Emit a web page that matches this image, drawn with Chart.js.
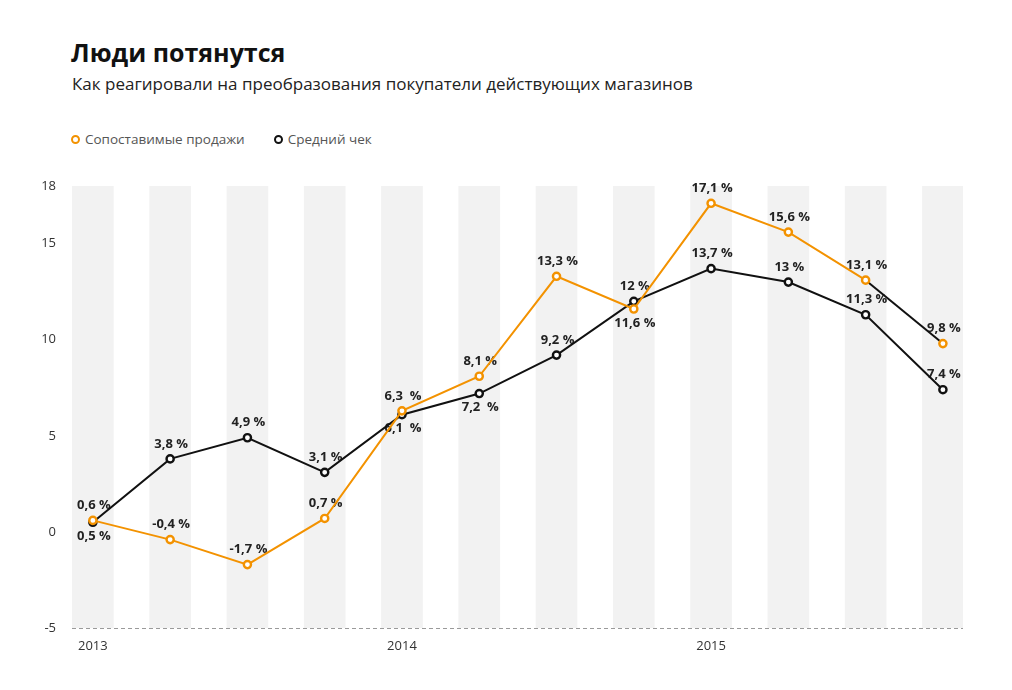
<!DOCTYPE html>
<html lang="ru">
<head>
<meta charset="utf-8">
<title>Люди потянутся</title>
<script src="https://cdn.jsdelivr.net/npm/chart.js@4.4.1/dist/chart.umd.min.js"></script>
<style>
	html, body { margin: 0; padding: 0; background: #fff; }
	body {
		width: 1012px; height: 690px; position: relative; overflow: hidden;
		font-family: 'Open Sans', sans-serif;
	}
	#chart { position: absolute; left: 0; top: 0; }
	.title {
		position: absolute; left: 71px; top: 35px; white-space: nowrap;
		font-size: 25px; font-weight: 700; color: #111; line-height: normal;
	}
	.subtitle {
		position: absolute; left: 72px; top: 72px; white-space: nowrap;
		font-size: 17px; color: #222; line-height: normal;
	}
	.legend {
		position: absolute; left: 71px; top: 130px; white-space: nowrap;
		font-size: 13.5px; color: #555; line-height: normal;
	}
	.legend span.item { display: inline-block; margin-right: 29px; }
	.legend i {
		display: inline-block; width: 5px; height: 5px; border-radius: 50%;
		border: 2.5px solid; margin-right: 5px; vertical-align: 0px;
	}
</style>
</head>
<body>
<div class="title">Люди потянутся</div>
<div class="subtitle">Как реагировали на преобразования покупатели действующих магазинов</div>
<div class="legend" id="legend"></div>
<canvas id="chart" width="1012" height="690"></canvas>
<script>
'use strict';

// Quarterly values, 2013 Q1 .. 2015 Q4 (%)
var SALES = [0.6, -0.4, -1.7, 0.7, 6.3, 8.1, 13.3, 11.6, 17.1, 15.6, 13.1, 9.8];
var AVG_CHECK = [0.5, 3.8, 4.9, 3.1, 6.1, 7.2, 9.2, 12, 13.7, 13, 11.3, 7.4];

var SERIES_NAMES = ['Сопоставимые продажи', 'Средний чек'];

// x axis: year labels sit under the first quarter of each year
var YEAR_TICKS = [0, 4, 8];
var YEAR_LABELS = ['2013', '2014', '2015'];

// y axis
var Y_MIN = -5;
var Y_MAX = 18;
var Y_TICKS = [-5, 0, 5, 10, 15, 18];

var ORANGE = '#f39200';
var BLACK = '#111111';
var BAND = '#f2f2f2';

function fmt(v, wide) {
	return String(v).replace('.', ',') + (wide ? '  %' : ' %');
}

// legend (html, so it sits exactly like the original)
var legend = document.getElementById('legend');
[ORANGE, BLACK].forEach(function(c, i) {
	var s = document.createElement('span');
	s.className = 'item';
	s.innerHTML = '<i style="border-color:' + c + '"></i>' + SERIES_NAMES[i];
	legend.appendChild(s);
});

// value labels, drawn right after the grey bands so lines pass over them
var pointLabels = {
	id: 'pointLabels',
	afterDatasetDraw: function(chart, args, opts) {
		if (args.index !== 2) return;
		var ctx = chart.ctx;
		ctx.save();
		ctx.font = 'bold 13px "Open Sans", sans-serif';
		ctx.fillStyle = '#222';
		ctx.textAlign = 'center';
		ctx.textBaseline = 'middle';
		[0, 1].forEach(function(di) {
			var meta = chart.getDatasetMeta(di);
			var values = chart.data.datasets[di].data;
			meta.data.forEach(function(pt, i) {
				var below = opts.below[di].indexOf(i) !== -1;
				var wide = opts.wide[di].indexOf(i) !== -1;
				var y = below ? pt.y + 14 : pt.y - 15;
				ctx.fillText(fmt(values[i].y, wide), pt.x + 1, y);
			});
		});
		ctx.restore();
	}
};

function toPoints(arr) {
	return arr.map(function(v, i) { return { x: i, y: v }; });
}

Chart.defaults.font.family = "'Open Sans', sans-serif";

new Chart(document.getElementById('chart'), {
	type: 'line',
	data: {
		datasets: [{
			label: SERIES_NAMES[0],
			data: toPoints(SALES),
			borderColor: ORANGE,
			borderWidth: 2,
			pointRadius: 3.6,
			pointBorderWidth: 2.4,
			pointBackgroundColor: '#fff',
			pointBorderColor: ORANGE,
			tension: 0,
			clip: false,
			order: 0,
			segment: {
				// the original draws the last sales segment in black
				borderColor: function(c) { return c.p0DataIndex === 10 ? BLACK : undefined; }
			}
		}, {
			label: SERIES_NAMES[1],
			data: toPoints(AVG_CHECK),
			borderColor: BLACK,
			borderWidth: 2,
			pointRadius: 3.6,
			pointBorderWidth: 2.4,
			pointBackgroundColor: '#fff',
			pointBorderColor: BLACK,
			tension: 0,
			clip: false,
			order: 1
		}, {
			type: 'bar',
			label: 'bands',
			data: SALES.map(function(v, i) { return { x: i, y: [Y_MIN, Y_MAX] }; }),
			backgroundColor: BAND,
			borderWidth: 0,
			barThickness: 41,
			order: 2
		}]
	},
	options: {
		responsive: false,
		animation: false,
		events: [],
		layout: { padding: { top: 186, right: 49, bottom: 32, left: 0 } },
		plugins: {
			legend: { display: false },
			tooltip: { enabled: false },
			pointLabels: {
				below: [[7], [0, 4, 5]],
				wide: [[4], [4, 5]]
			}
		},
		scales: {
			x: {
				type: 'linear',
				offset: false,
				min: -0.27,
				max: 11.26,
				grid: { display: false, drawTicks: false },
				border: { display: false },
				afterBuildTicks: function(scale) {
					scale.ticks = YEAR_TICKS.map(function(v) { return { value: v }; });
				},
				afterFit: function(scale) { scale.height = 30; },
				ticks: {
					padding: 10,
					color: '#333',
					font: { size: 13 },
					maxRotation: 0,
					callback: function(v) {
						var k = YEAR_TICKS.indexOf(v);
						return k === -1 ? '' : YEAR_LABELS[k];
					}
				}
			},
			y: {
				min: Y_MIN,
				max: Y_MAX,
				// only the bottom line is drawn, dashed
				grid: {
					drawTicks: false,
					lineWidth: 1,
					color: function(c) {
						return c.tick && c.tick.value === Y_MIN ? '#9a9a9a' : 'rgba(0,0,0,0)';
					}
				},
				border: { display: false, dash: [4, 3] },
				afterBuildTicks: function(scale) {
					scale.ticks = Y_TICKS.map(function(v) { return { value: v }; });
				},
				afterFit: function(scale) { scale.width = 72; },
				ticks: {
					padding: 16,
					color: '#333',
					font: { size: 13 }
				}
			}
		}
	},
	plugins: [pointLabels]
});
</script>
</body>
</html>
